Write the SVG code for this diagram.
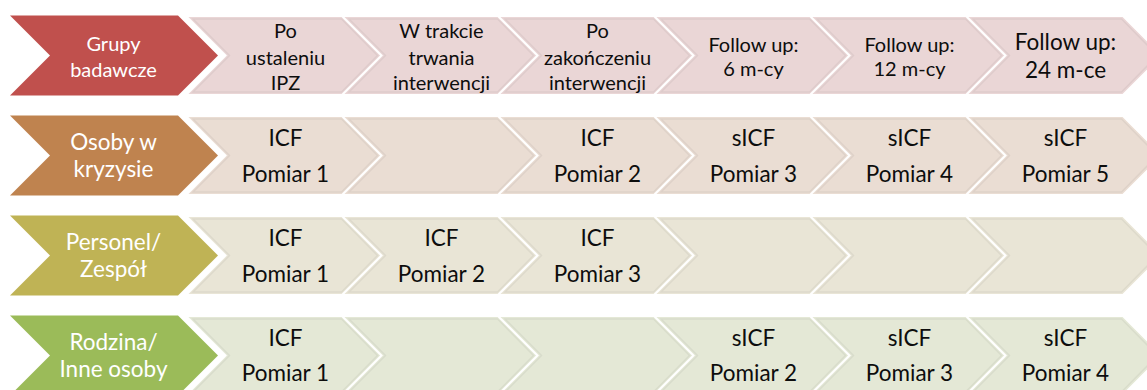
<svg xmlns="http://www.w3.org/2000/svg" xmlns:xlink="http://www.w3.org/1999/xlink" width="1147" height="390" viewBox="0 0 1147 390">
  <style>
    text { font-family: Lato, "Liberation Sans", sans-serif; text-anchor: middle; }
    .hd { fill: #ffffff; }
    .cell { fill: #0d0d0d; }
    .s1 { font-size: 20px; }
    .s2 { font-size: 22.5px; }
    .body { stroke: #ffffff; stroke-width: 2; stroke-linejoin: miter; }
    .rim { fill: none; stroke: #000000; stroke-opacity: 0.05; stroke-width: 1.5; }
    .d1 { fill: #c0504d; } .l1 { fill: #ead6d6; }
    .d2 { fill: #bf834f; } .l2 { fill: #eaddd3; }
    .d3 { fill: #bfb355; } .l3 { fill: #e9e5d6; }
    .d4 { fill: #9bbb59; } .l4 { fill: #e4e8d6; }
  </style>
  <defs>
    <!-- one light step of a row: notched on the left, pointed on the right -->
    <g id="chev">
      <polygon class="body" points="0,0 157,0 196.5,39.5 157,79 0,79 39.5,39.5"/>
      <polygon class="rim" points="7,3 155.5,3 191.5,39.5 155.5,76 7,76 43.5,39.5"/>
    </g>
  </defs>

  <!-- Row 1: time points -->
  <g id="row1">
    <g id="r1-head">
      <polygon class="d1" points="10,15.5 178,15.5 218,55.5 178,95.5 10,95.5 50,55.5"/>
      <text class="hd s1" x="113.5" y="51">Grupy</text>
      <text class="hd s1" x="113.5" y="77">badawcze</text>
    </g>
    <g id="r1-c1"><use xlink:href="#chev" class="l1" x="186" y="16"/>
      <text class="cell s1" x="285.5" y="38">Po</text>
      <text class="cell s1" x="285.5" y="64.5">ustaleniu</text>
      <text class="cell s1" x="285.5" y="90">IPZ</text></g>
    <g id="r1-c2"><use xlink:href="#chev" class="l1" x="342" y="16"/>
      <text class="cell s1" x="441.5" y="38">W trakcie</text>
      <text class="cell s1" x="441.5" y="64.5">trwania</text>
      <text class="cell s1" x="441.5" y="90">interwencji</text></g>
    <g id="r1-c3"><use xlink:href="#chev" class="l1" x="498" y="16"/>
      <text class="cell s1" x="597.5" y="38">Po</text>
      <text class="cell s1" x="597.5" y="64.5">zakończeniu</text>
      <text class="cell s1" x="597.5" y="90">interwencji</text></g>
    <g id="r1-c4"><use xlink:href="#chev" class="l1" x="654" y="16"/>
      <text class="cell s1" x="753.5" y="52">Follow up:</text>
      <text class="cell s1" x="753.5" y="76">6 m-cy</text></g>
    <g id="r1-c5"><use xlink:href="#chev" class="l1" x="810" y="16"/>
      <text class="cell s1" x="909.5" y="52">Follow up:</text>
      <text class="cell s1" x="909.5" y="76">12 m-cy</text></g>
    <g id="r1-c6"><use xlink:href="#chev" class="l1" x="966" y="16"/>
      <text class="cell s2" x="1065.5" y="50">Follow up:</text>
      <text class="cell s2" x="1065.5" y="78">24 m-ce</text></g>
  </g>

  <!-- Row 2: people in crisis -->
  <g id="row2">
    <g id="r2-head">
      <polygon class="d2" points="10,115.5 178,115.5 218,155.5 178,195.5 10,195.5 50,155.5"/>
      <text class="hd s2" x="113.5" y="150">Osoby w</text>
      <text class="hd s2" x="113.5" y="177">kryzysie</text>
    </g>
    <g id="r2-c1"><use xlink:href="#chev" class="l2" x="186" y="116"/>
      <text class="cell s2" x="285.5" y="146">ICF</text>
      <text class="cell s2" x="285.5" y="181.5">Pomiar 1</text></g>
    <g id="r2-c2"><use xlink:href="#chev" class="l2" x="342" y="116"/></g>
    <g id="r2-c3"><use xlink:href="#chev" class="l2" x="498" y="116"/>
      <text class="cell s2" x="597.5" y="146">ICF</text>
      <text class="cell s2" x="597.5" y="181.5">Pomiar 2</text></g>
    <g id="r2-c4"><use xlink:href="#chev" class="l2" x="654" y="116"/>
      <text class="cell s2" x="753.5" y="146">sICF</text>
      <text class="cell s2" x="753.5" y="181.5">Pomiar 3</text></g>
    <g id="r2-c5"><use xlink:href="#chev" class="l2" x="810" y="116"/>
      <text class="cell s2" x="909.5" y="146">sICF</text>
      <text class="cell s2" x="909.5" y="181.5">Pomiar 4</text></g>
    <g id="r2-c6"><use xlink:href="#chev" class="l2" x="966" y="116"/>
      <text class="cell s2" x="1065.5" y="146">sICF</text>
      <text class="cell s2" x="1065.5" y="181.5">Pomiar 5</text></g>
  </g>

  <!-- Row 3: staff / team -->
  <g id="row3">
    <g id="r3-head">
      <polygon class="d3" points="10,215.5 178,215.5 218,255.5 178,295.5 10,295.5 50,255.5"/>
      <text class="hd s2" x="113.5" y="250">Personel/</text>
      <text class="hd s2" x="113.5" y="277">Zespół</text>
    </g>
    <g id="r3-c1"><use xlink:href="#chev" class="l3" x="186" y="216"/>
      <text class="cell s2" x="285.5" y="246">ICF</text>
      <text class="cell s2" x="285.5" y="281.5">Pomiar 1</text></g>
    <g id="r3-c2"><use xlink:href="#chev" class="l3" x="342" y="216"/>
      <text class="cell s2" x="441.5" y="246">ICF</text>
      <text class="cell s2" x="441.5" y="281.5">Pomiar 2</text></g>
    <g id="r3-c3"><use xlink:href="#chev" class="l3" x="498" y="216"/>
      <text class="cell s2" x="597.5" y="246">ICF</text>
      <text class="cell s2" x="597.5" y="281.5">Pomiar 3</text></g>
    <g id="r3-c4"><use xlink:href="#chev" class="l3" x="654" y="216"/></g>
    <g id="r3-c5"><use xlink:href="#chev" class="l3" x="810" y="216"/></g>
    <g id="r3-c6"><use xlink:href="#chev" class="l3" x="966" y="216"/></g>
  </g>

  <!-- Row 4: family / other people -->
  <g id="row4">
    <g id="r4-head">
      <polygon class="d4" points="10,315.5 178,315.5 218,355.5 178,395.5 10,395.5 50,355.5"/>
      <text class="hd s2" x="113.5" y="350">Rodzina/</text>
      <text class="hd s2" x="113.5" y="377">Inne osoby</text>
    </g>
    <g id="r4-c1"><use xlink:href="#chev" class="l4" x="186" y="316"/>
      <text class="cell s2" x="285.5" y="346">ICF</text>
      <text class="cell s2" x="285.5" y="381">Pomiar 1</text></g>
    <g id="r4-c2"><use xlink:href="#chev" class="l4" x="342" y="316"/></g>
    <g id="r4-c3"><use xlink:href="#chev" class="l4" x="498" y="316"/></g>
    <g id="r4-c4"><use xlink:href="#chev" class="l4" x="654" y="316"/>
      <text class="cell s2" x="753.5" y="346">sICF</text>
      <text class="cell s2" x="753.5" y="381">Pomiar 2</text></g>
    <g id="r4-c5"><use xlink:href="#chev" class="l4" x="810" y="316"/>
      <text class="cell s2" x="909.5" y="346">sICF</text>
      <text class="cell s2" x="909.5" y="381">Pomiar 3</text></g>
    <g id="r4-c6"><use xlink:href="#chev" class="l4" x="966" y="316"/>
      <text class="cell s2" x="1065.5" y="346">sICF</text>
      <text class="cell s2" x="1065.5" y="381">Pomiar 4</text></g>
  </g>
</svg>
